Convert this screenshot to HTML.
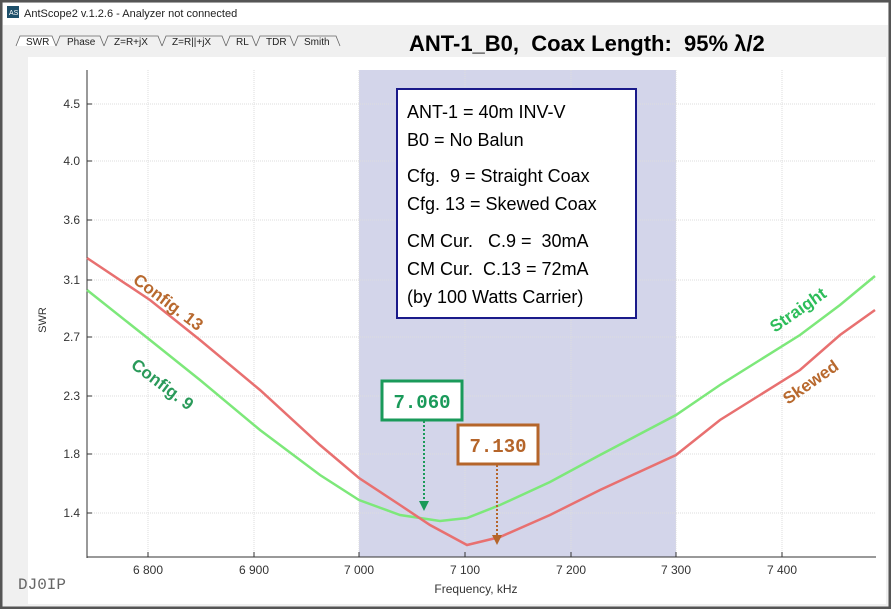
<!DOCTYPE html><html><head><meta charset="utf-8"><style>
body{margin:0;width:891px;height:609px;overflow:hidden;background:#fff;font-family:"Liberation Sans",sans-serif}
text{white-space:pre}
</style></head><body>
<svg width="891" height="609" viewBox="0 0 891 609" xmlns="http://www.w3.org/2000/svg" font-family="Liberation Sans, sans-serif" xml:space="preserve">
<rect x="0" y="0" width="891" height="609" fill="#f0f0f0"/>
<rect x="0" y="0" width="891" height="609" fill="none" stroke="#555" stroke-width="5"/>
<rect x="3" y="3" width="885" height="22" fill="#fff"/>
<rect x="7" y="6" width="12" height="12" fill="#1d4f6a"/>
<text x="9" y="15" font-size="7" fill="#fff">AS</text>
<text x="24" y="17" font-size="11" fill="#222">AntScope2 v.1.2.6 - Analyzer not connected</text>
<g font-size="10" fill="#222" stroke="#666" stroke-width="0.8">
<path d="M16 46 L20 36 L52 36 L56 46" fill="#fff"/><text x="26" y="45" stroke="none">SWR</text>
<path d="M56 46 L60 36 L100 36 L104 46" fill="none"/><text x="67" y="45" stroke="none">Phase</text>
<path d="M104 46 L108 36 L158 36 L162 46" fill="none"/><text x="114" y="45" stroke="none">Z=R+jX</text>
<path d="M162 46 L166 36 L222 36 L226 46" fill="none"/><text x="172" y="45" stroke="none">Z=R||+jX</text>
<path d="M226 46 L230 36 L252 36 L256 46" fill="none"/><text x="236" y="45" stroke="none">RL</text>
<path d="M256 46 L260 36 L290 36 L294 46" fill="none"/><text x="266" y="45" stroke="none">TDR</text>
<path d="M294 46 L298 36 L336 36 L340 46" fill="none"/><text x="304" y="45" stroke="none">Smith</text>
</g>
<text x="409" y="51" font-size="22" font-weight="bold" fill="#000">ANT-1_B0,  Coax Length:  95% λ/2</text>
<rect x="28" y="57" width="858" height="547" fill="#fff"/>
<rect x="359" y="70" width="317" height="487" fill="#d3d5ea"/>
<g stroke="#ddd" stroke-dasharray="1 1" stroke-width="1">
<line x1="88" y1="104" x2="876" y2="104"/><line x1="88" y1="161" x2="876" y2="161"/><line x1="88" y1="220" x2="876" y2="220"/><line x1="88" y1="280" x2="876" y2="280"/><line x1="88" y1="337" x2="876" y2="337"/><line x1="88" y1="396" x2="876" y2="396"/><line x1="88" y1="454" x2="876" y2="454"/><line x1="88" y1="513" x2="876" y2="513"/>
<line x1="148" y1="70" x2="148" y2="557"/><line x1="254" y1="70" x2="254" y2="557"/><line x1="359" y1="70" x2="359" y2="557"/><line x1="465" y1="70" x2="465" y2="557"/><line x1="571" y1="70" x2="571" y2="557"/><line x1="676" y1="70" x2="676" y2="557"/><line x1="782" y1="70" x2="782" y2="557"/>
</g>
<line x1="87" y1="70" x2="87" y2="558" stroke="#333"/>
<line x1="87" y1="557" x2="876" y2="557" stroke="#333"/>
<g font-size="12" fill="#333" text-anchor="end">
<text x="80" y="108">4.5</text><text x="80" y="165">4.0</text><text x="80" y="224">3.6</text><text x="80" y="284">3.1</text><text x="80" y="341">2.7</text><text x="80" y="400">2.3</text><text x="80" y="458">1.8</text><text x="80" y="517">1.4</text>
</g>
<g stroke="#333"><line x1="87" y1="104" x2="92" y2="104"/><line x1="87" y1="161" x2="92" y2="161"/><line x1="87" y1="220" x2="92" y2="220"/><line x1="87" y1="280" x2="92" y2="280"/><line x1="87" y1="337" x2="92" y2="337"/><line x1="87" y1="396" x2="92" y2="396"/><line x1="87" y1="454" x2="92" y2="454"/><line x1="87" y1="513" x2="92" y2="513"/>
<line x1="148" y1="557" x2="148" y2="552"/><line x1="254" y1="557" x2="254" y2="552"/><line x1="359" y1="557" x2="359" y2="552"/><line x1="465" y1="557" x2="465" y2="552"/><line x1="571" y1="557" x2="571" y2="552"/><line x1="676" y1="557" x2="676" y2="552"/><line x1="782" y1="557" x2="782" y2="552"/></g>
<g font-size="12" fill="#333" text-anchor="middle">
<text x="148" y="574">6 800</text><text x="254" y="574">6 900</text><text x="359" y="574">7 000</text><text x="465" y="574">7 100</text><text x="571" y="574">7 200</text><text x="676" y="574">7 300</text><text x="782" y="574">7 400</text>
<text x="476" y="593">Frequency, kHz</text>
</g>
<text x="46" y="320" font-size="11" fill="#333" transform="rotate(-90 46 320)" text-anchor="middle">SWR</text>
<text x="18" y="589" font-size="16" fill="#666" font-family="Liberation Mono, monospace">DJ0IP</text>
<polyline fill="none" stroke="#7de87a" stroke-width="2.5" points="87,290 150,340 200,380 260,430 320,475 359,500 400,515 440,521 467,518 500,505 550,482 600,455 676,415 720,385 760,360 800,335 840,305 875,276"/>
<polyline fill="none" stroke="#e87070" stroke-width="2.5" points="87,258 150,300 200,340 260,390 320,445 359,478 400,505 430,525 467,545 500,537 550,515 600,490 676,455 720,420 760,395 800,370 840,335 875,310"/>
<rect x="397" y="89" width="239" height="229" fill="#fff" stroke="#1a1a8a" stroke-width="2"/>
<g font-size="18" fill="#000">
<text x="407" y="118">ANT-1 = 40m INV-V</text><text x="407" y="146">B0 = No Balun</text>
<text x="407" y="182">Cfg.  9 = Straight Coax</text><text x="407" y="210">Cfg. 13 = Skewed Coax</text>
<text x="407" y="247">CM Cur.   C.9 =  30mA</text><text x="407" y="275">CM Cur.  C.13 = 72mA</text><text x="407" y="303">(by 100 Watts Carrier)</text>
</g>
<g font-size="17" font-weight="bold">
<text x="132" y="282" fill="#b8692e" transform="rotate(37 132 282)">Config. 13</text>
<text x="130" y="367" fill="#2a9a5a" transform="rotate(37 130 367)">Config. 9</text>
<text x="775" y="333" fill="#2dbd5a" transform="rotate(-35 775 333)">Straight</text>
<text x="788" y="405" fill="#b8692e" transform="rotate(-35 788 405)">Skewed</text>
</g>
<line x1="424" y1="421" x2="424" y2="503" stroke="#1a9a5a" stroke-width="2" stroke-dasharray="2 2"/>
<path d="M419 501 L429 501 L424 511 Z" fill="#1a9a5a"/>
<line x1="497" y1="465" x2="497" y2="537" stroke="#b5652a" stroke-width="2" stroke-dasharray="2 2"/>
<path d="M492 535 L502 535 L497 545 Z" fill="#b5652a"/>
<rect x="382" y="381" width="80" height="39" fill="#fff" stroke="#1a9a5a" stroke-width="3"/>
<text x="422" y="408" font-size="19" font-weight="bold" fill="#1a9a5a" text-anchor="middle" font-family="Liberation Mono, monospace">7.060</text>
<rect x="458" y="425" width="80" height="39" fill="#fff" stroke="#b5652a" stroke-width="3"/>
<text x="498" y="452" font-size="19" font-weight="bold" fill="#b5652a" text-anchor="middle" font-family="Liberation Mono, monospace">7.130</text>
</svg>
</body></html>
